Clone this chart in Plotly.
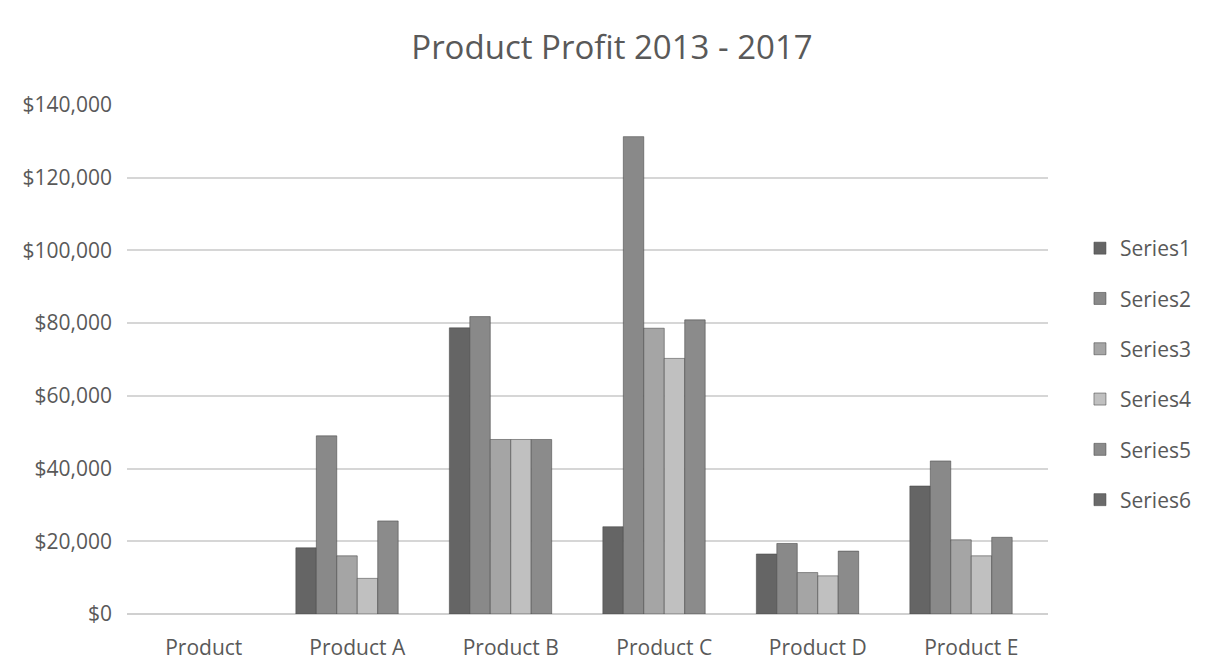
import plotly.graph_objects as go

categories = ["Product", "Product A", "Product B", "Product C", "Product D", "Product E"]
series_names = ["Series1", "Series2", "Series3", "Series4", "Series5", "Series6"]
series1 = [None, 18200, 78700, 24000, 16500, 35200]
series2 = [None, 49000, 81800, 131300, 19400, 42100]
series3 = [None, 16000, 48000, 78600, 11400, 20400]
series4 = [None, 9800, 48000, 70300, 10500, 16000]
series5 = [None, 25600, 48000, 80900, 17300, 21100]
series6 = [None, None, None, None, None, None]
all_series = [series1, series2, series3, series4, series5, series6]
colors = ["#656565", "#898989", "#a5a5a5", "#c0c0c0", "#8b8b8b", "#6a6a6a"]
y_ticks = [0, 20000, 40000, 60000, 80000, 100000, 120000, 140000]
y_tick_text = ["$" + format(v, ",") for v in y_ticks]

FONT = "Open Sans"
TXT = "#595959"

fig = go.Figure()
for i, (name, vals, col) in enumerate(zip(series_names, all_series, colors)):
    fig.add_trace(go.Bar(
        x=categories, y=vals, name=name,
        marker=dict(color=col, line=dict(color="rgba(70,70,70,0.55)", width=1)),
        legendgroup=name, offsetgroup=str(i),
    ))

fig.update_layout(
    width=1209, height=664,
    paper_bgcolor="white", plot_bgcolor="white",
    barmode="group", bargap=0.2, bargroupgap=0,
    margin=dict(l=119, r=169, t=97, b=58),
    title=dict(text="Product Profit 2013 - 2017", x=604 / 1209, xanchor="center",
               y=1 - 39 / 664, yanchor="middle",
               font=dict(family=FONT, size=33, color=TXT)),
    font=dict(family=FONT, color=TXT),
    legend=dict(x=1.0347, xanchor="left", y=0.4715, yanchor="middle",
                font=dict(family=FONT, size=21, color=TXT),
                tracegroupgap=20, bgcolor="rgba(0,0,0,0)"),
    showlegend=True,
)
fig.update_yaxes(range=[0, 140000], tickvals=y_ticks, ticktext=y_tick_text,
                 showgrid=True, gridcolor="#d6d6d6", gridwidth=1.6,
                 zeroline=True, zerolinecolor="#d0d0d0", zerolinewidth=1.6,
                 showline=False, ticks="", ticklabelstandoff=14,
                 tickfont=dict(family=FONT, size=21, color=TXT))
fig.update_xaxes(showgrid=False, showline=False, ticks="", ticklabelstandoff=19,
                 tickfont=dict(family=FONT, size=21, color=TXT))

fig.write_html("out.html")
